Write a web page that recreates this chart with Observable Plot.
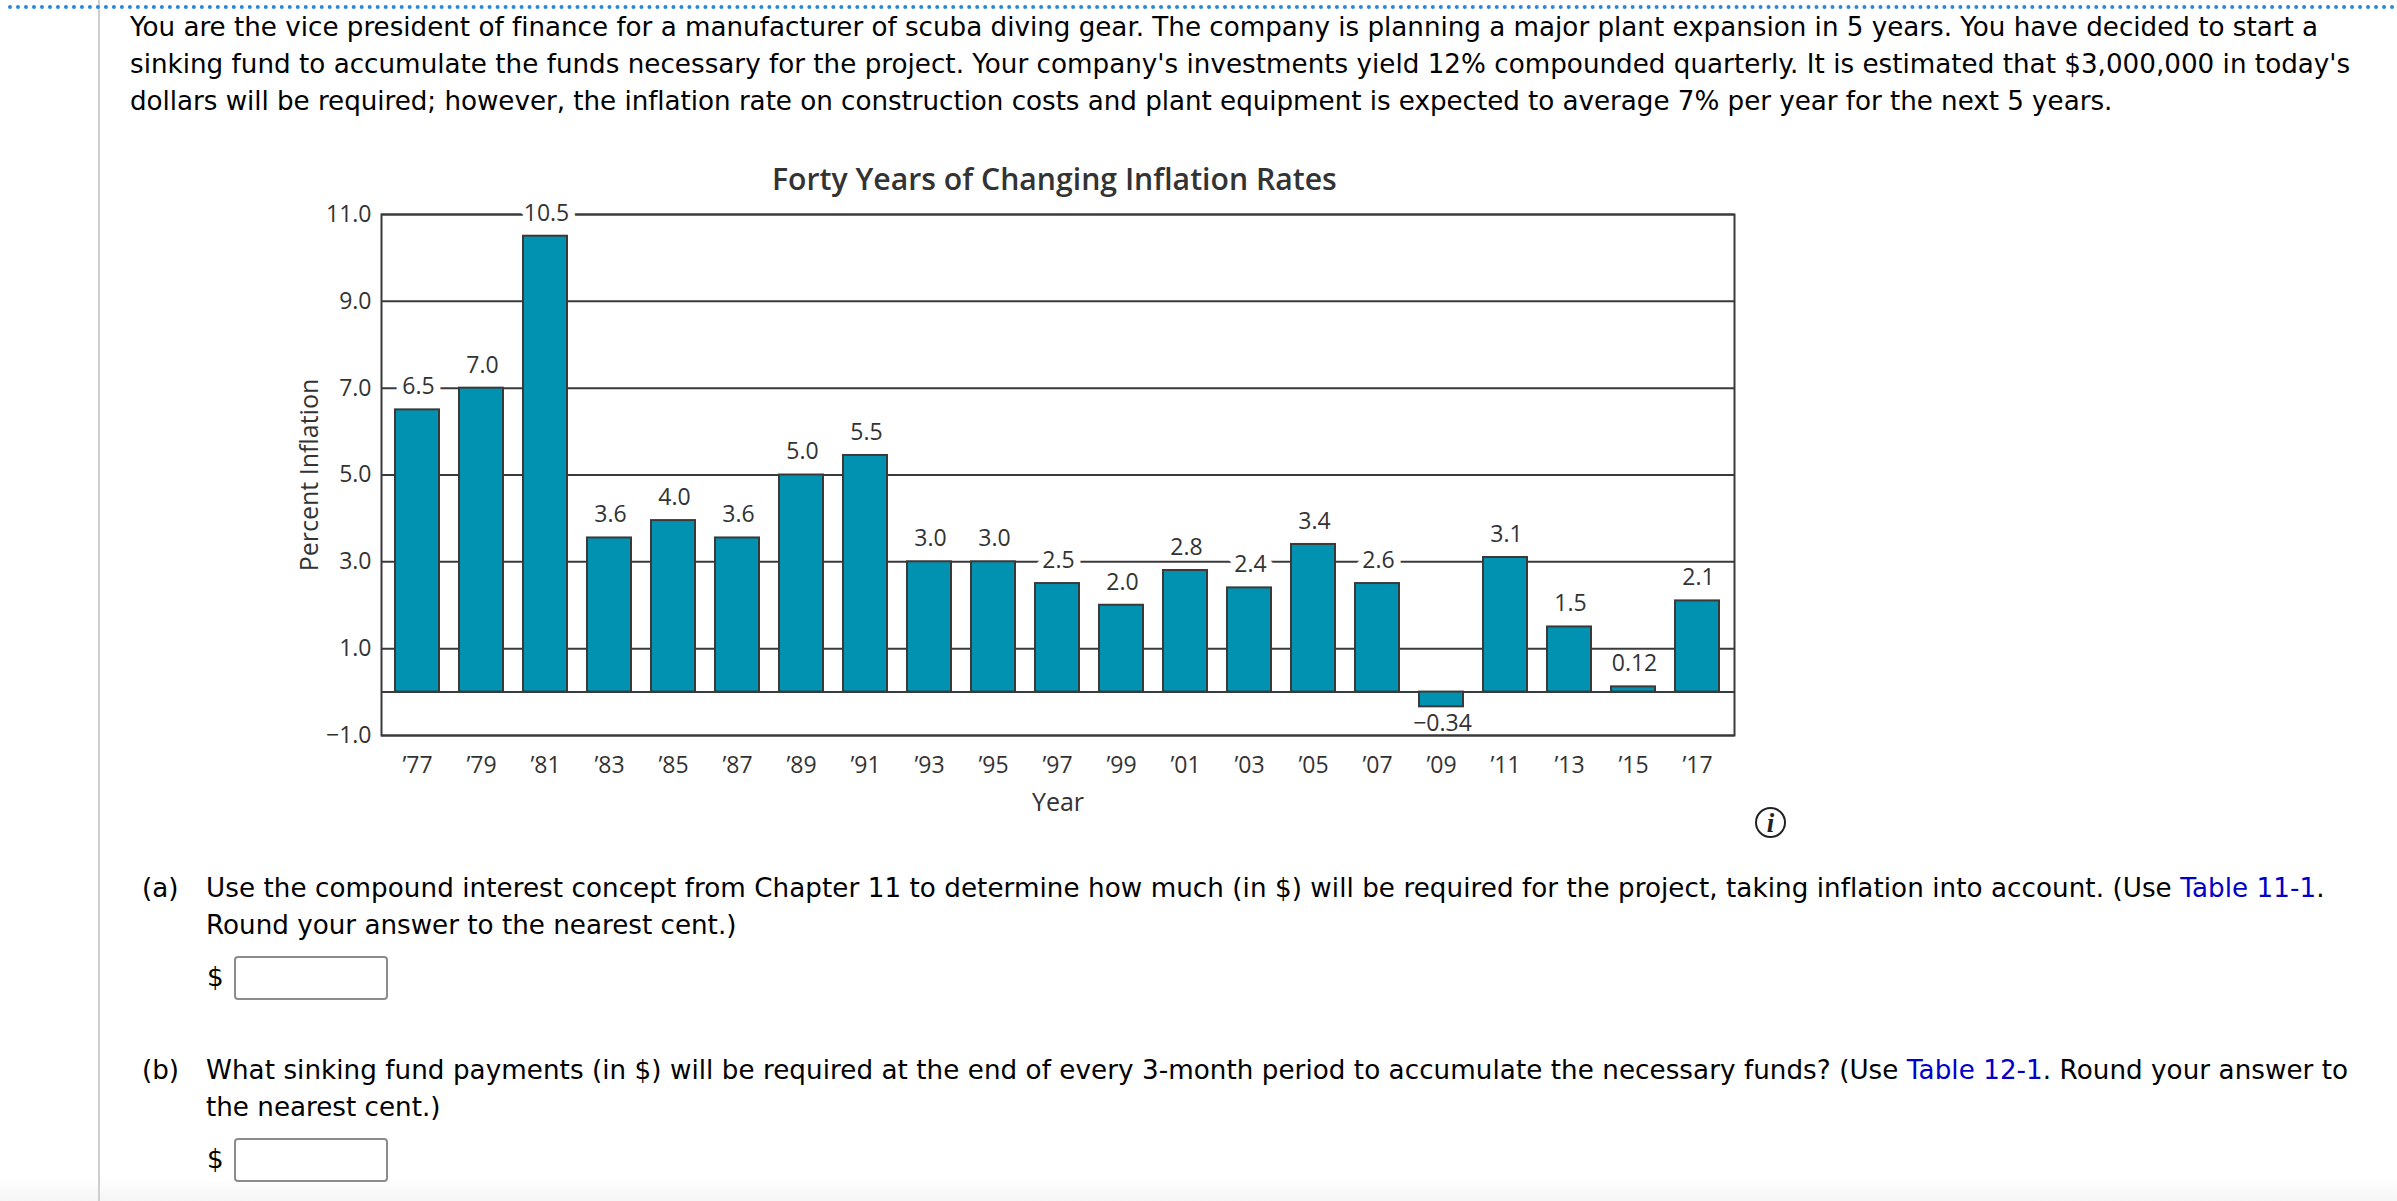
<!DOCTYPE html>
<html>
<head>
<meta charset="utf-8">
<script src="https://cdn.jsdelivr.net/npm/d3@7"></script>
<script src="https://cdn.jsdelivr.net/npm/@observablehq/plot@0.6"></script>
<style>
html,body{margin:0;padding:0;background:#fff;width:2397px;height:1201px;overflow:hidden}
#page{position:relative;width:2397px;height:1201px;font-family:"DejaVu Sans",sans-serif;color:#000;font-size:26.2px}
.t{position:absolute;white-space:nowrap;line-height:37px}
#plot{position:absolute;left:0;top:180px;width:2397px}
#plot svg{display:block}
#title{position:absolute;left:0;width:2397px;top:160px;font:600 30.2px "Open Sans",sans-serif;color:#333;line-height:38px;z-index:2}
#title span{position:absolute;left:772px;white-space:nowrap}
.box{position:absolute;left:234px;width:150px;height:40px;border:2px solid #8c8c8c;border-radius:4px;background:#fff}
a{color:#0000c8;text-decoration:none}
#dots{position:absolute;left:8px;right:0;top:5px;border-top:4px dotted #2a86d8}
#vline{position:absolute;left:98px;top:0;bottom:0;width:2px;background:#cfcfcf}
#foot{position:absolute;left:0;right:0;bottom:0;height:22px;background:linear-gradient(#fff,#f5f5f5)}
#info{position:absolute;left:1755px;top:807px;width:27px;height:27px;border:2px solid #222;border-radius:50%;font:italic 700 27px "Liberation Serif",serif;text-align:center;line-height:28px;color:#222}
</style>
</head>
<body>
<div id="page">
  <div id="foot"></div>
  <div id="vline"></div>
  <div id="dots"></div>
  <div class="t" style="left:130px;top:9px;letter-spacing:-.015px">You are the vice president of finance for a manufacturer of scuba diving gear. The company is planning a major plant expansion in 5 years. You have decided to start a</div>
  <div class="t" style="left:130px;top:46px;letter-spacing:.01px">sinking fund to accumulate the funds necessary for the project. Your company's investments yield 12% compounded quarterly. It is estimated that $3,000,000 in today's</div>
  <div class="t" style="left:130px;top:83px;letter-spacing:-.04px">dollars will be required; however, the inflation rate on construction costs and plant equipment is expected to average 7% per year for the next 5 years.</div>
  <div id="plot"></div>
  <div id="title"><span>Forty Years of Changing Inflation Rates</span></div>
  <div id="info">i</div>
  <div class="t" style="left:142px;top:870px">(a)</div>
  <div class="t" style="left:206px;top:870px;letter-spacing:.055px">Use the compound interest concept from Chapter 11 to determine how much (in $) will be required for the project, taking inflation into account. (Use <a>Table 11-1</a>.</div>
  <div class="t" style="left:206px;top:907px">Round your answer to the nearest cent.)</div>
  <div class="t" style="left:207px;top:959px">$</div>
  <div class="box" style="top:956px"></div>
  <div class="t" style="left:142px;top:1052px">(b)</div>
  <div class="t" style="left:206px;top:1052px;letter-spacing:.05px">What sinking fund payments (in $) will be required at the end of every 3-month period to accumulate the necessary funds? (Use <a>Table 12-1</a>. Round your answer to</div>
  <div class="t" style="left:206px;top:1089px">the nearest cent.)</div>
  <div class="t" style="left:207px;top:1141px">$</div>
  <div class="box" style="top:1138px"></div>
</div>
<script>
const years = ["77","79","81","83","85","87","89","91","93","95","97","99","01","03","05","07","09","11","13","15","17"];
const values = [6.5,7.0,10.5,3.55,3.95,3.55,5.0,5.45,3.0,3.0,2.5,2.0,2.8,2.4,3.4,2.5,-0.34,3.1,1.5,0.12,2.1];
const valueLabels = ["6.5","7.0","10.5","3.6","4.0","3.6","5.0","5.5","3.0","3.0","2.5","2.0","2.8","2.4","3.4","2.6","−0.34","3.1","1.5","0.12","2.1"];
const labelsBreakingGrid = ["77","81","97","03","07"];
const yTicks = [-1,1,3,5,7,9,11];
const rows = years.map((year,i)=>({year,value:values[i],label:valueLabels[i]}));
const ink = "#3a3a3a", labelFont = "Open Sans";
const breaks = d=>labelsBreakingGrid.includes(d.year);
const chart = Plot.plot({
  width:2397, height:650,
  marginLeft:381, marginRight:663, marginTop:34, marginBottom:95,
  style:{fontFamily:labelFont,fontSize:"23px",color:"#333",background:"transparent"},
  x:{type:"band",domain:years,paddingInner:0.31,paddingOuter:0.22},
  y:{domain:[-1,11]},
  marks:[
    Plot.ruleY(yTicks.concat([0]),{stroke:ink,strokeWidth:2}),
    Plot.barY(rows,{x:"year",y1:0,y2:"value",fill:"#0292b1",stroke:ink,strokeWidth:2}),
    Plot.frame({stroke:ink,strokeWidth:2}),
    Plot.text(rows.filter(breaks),{x:"year",y:"value",text:"label",dy:-23,dx:1,fill:"#333",stroke:"white",strokeWidth:14,paintOrder:"stroke",fontSize:23}),
    Plot.text(rows.filter(d=>!breaks(d)&&d.value>=0),{x:"year",y:"value",text:"label",dy:-23,dx:1,fill:"#333",fontSize:23}),
    Plot.text(rows.filter(d=>d.value<0),{x:"year",y:"value",text:"label",dy:17,dx:1,fill:"#333",fontSize:23}),
    Plot.axisX({domain:years,tickSize:0,tickPadding:21,tickFormat:d=>"’"+d,fontSize:23,fill:"#333",label:null}),
    Plot.axisY({ticks:yTicks,tickSize:0,tickPadding:10,tickFormat:d=>d3.format(".1f")(d).replace("-","−"),fontSize:23,fill:"#333",label:null}),
    Plot.axisX({domain:years,ticks:[],tickSize:0,label:"Year",labelAnchor:"center",labelArrow:"none",labelOffset:75,fontSize:25,fill:"#333"}),
    Plot.axisY({ticks:[],tickSize:0,label:"Percent Inflation",labelAnchor:"center",labelArrow:"none",labelOffset:81,fontSize:25,fill:"#333"})
  ]
});
document.getElementById("plot").appendChild(chart);
</script>
</body>
</html>
